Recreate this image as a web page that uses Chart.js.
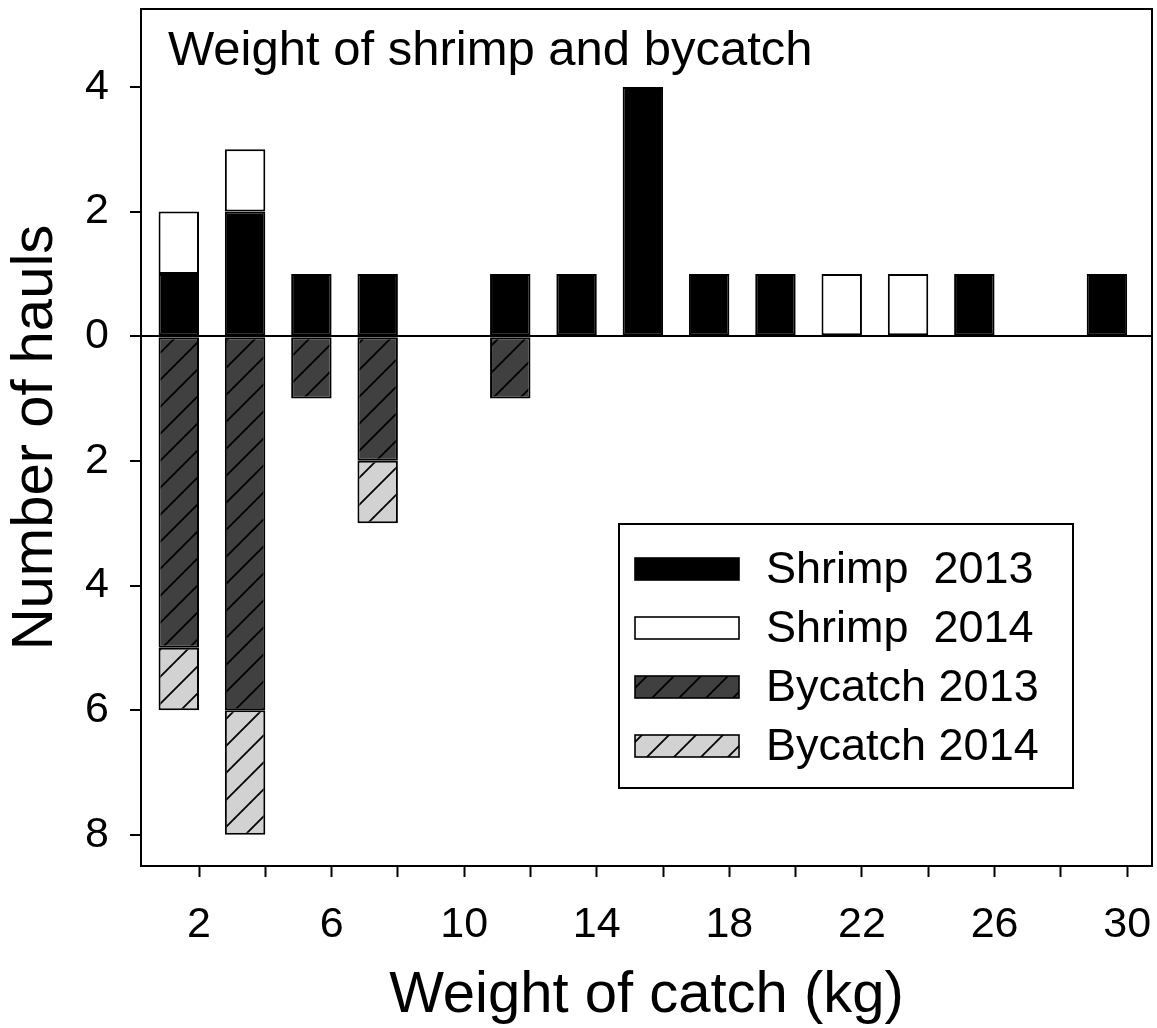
<!DOCTYPE html>
<html>
<head>
<meta charset="utf-8">
<title>Weight of shrimp and bycatch</title>
<script src="https://cdn.jsdelivr.net/npm/chart.js@4.4.0/dist/chart.umd.min.js"></script>
<style>
  html, body { margin: 0; padding: 0; background: #fff; }
  canvas { display: block; }
</style>
</head>
<body>
<canvas id="catch" width="1157" height="1028"></canvas>
<script>
// upper edge of each 2 kg weight class
const binUpper = [2, 4, 6, 8, 10, 12, 14, 16, 18, 20, 22, 24, 26, 28, 30];

// number of hauls per weight class
const shrimp2013 = [1, 2, 1, 1, null, 1, 1, 4, 1, 1, null, null, 1, null, 1];
const shrimp2014 = [1, 1, null, null, null, null, null, null, null, null, 1, 1, null, null, null];
const bycatch2013 = [5, 6, 1, 2, null, 1, null, null, null, null, null, null, null, null, null];
const bycatch2014 = [1, 2, null, 1, null, null, null, null, null, null, null, null, null, null, null];

const seriesLabels = ["Shrimp  2013", "Shrimp  2014", "Bycatch 2013", "Bycatch 2014"];

const xTicks = [2, 4, 6, 8, 10, 12, 14, 16, 18, 20, 22, 24, 26, 28, 30];
const xLabelled = [2, 6, 10, 14, 18, 22, 26, 30];
const yTicks = [-8, -6, -4, -2, 0, 2, 4];

const FONT = '"Liberation Sans", Arial, Helvetica, sans-serif';
const BAR_WIDTH = 1.22; // kg, bars sit against the upper edge of their class

const canvas = document.getElementById("catch");
const ctx = canvas.getContext("2d");

function hatch(fill) {
  const s = 27;
  const tile = document.createElement("canvas");
  tile.width = s;
  tile.height = s;
  const g = tile.getContext("2d");
  g.fillStyle = fill;
  g.fillRect(0, 0, s, s);
  g.strokeStyle = "#000";
  g.lineWidth = 1.8;
  g.beginPath();
  g.moveTo(0, s); g.lineTo(s, 0);
  g.moveTo(-s / 2, s / 2); g.lineTo(s / 2, -s / 2);
  g.moveTo(s / 2, s * 1.5); g.lineTo(s * 1.5, s / 2);
  g.stroke();
  return ctx.createPattern(tile, "repeat");
}

const toPoints = (values, sign) =>
  binUpper.map((u, i) => ({
    x: u - BAR_WIDTH / 2,
    y: values[i] == null ? null : sign * values[i],
  }));

const barStyle = {
  borderColor: "#000",
  borderWidth: 2,
  borderSkipped: false,
  categoryPercentage: 1,
  barPercentage: BAR_WIDTH / 2,
};

const datasets = [
  { label: seriesLabels[0], data: toPoints(shrimp2013, 1), backgroundColor: "#000", ...barStyle },
  { label: seriesLabels[1], data: toPoints(shrimp2014, 1), backgroundColor: "#fff", ...barStyle },
  { label: seriesLabels[2], data: toPoints(bycatch2013, -1), backgroundColor: hatch("#404040"), ...barStyle },
  { label: seriesLabels[3], data: toPoints(bycatch2014, -1), backgroundColor: hatch("#d2d2d2"), ...barStyle },
];

// keep tick labels from pushing the plot area inwards
const noOverflow = (s) => {
  s.paddingTop = 0;
  s.paddingBottom = 0;
  s.paddingLeft = 0;
  s.paddingRight = 0;
};

// frame, heading and legend drawn over the plot area
const decorations = {
  id: "decorations",
  afterDraw(chart) {
    const { ctx, chartArea: a } = chart;
    ctx.save();

    ctx.strokeStyle = "#000";
    ctx.lineWidth = 2;
    ctx.strokeRect(a.left, a.top, a.right - a.left, a.bottom - a.top);

    ctx.fillStyle = "#000";
    ctx.font = `49px ${FONT}`;
    ctx.textBaseline = "alphabetic";
    ctx.textAlign = "left";
    ctx.fillText("Weight of shrimp and bycatch", 168, 65);

    // legend box
    const box = { x: 619, y: 524, w: 454, h: 264 };
    ctx.fillStyle = "#fff";
    ctx.fillRect(box.x, box.y, box.w, box.h);
    ctx.lineWidth = 2;
    ctx.strokeRect(box.x, box.y, box.w, box.h);

    ctx.font = `45px ${FONT}`;
    ctx.textBaseline = "middle";
    chart.data.datasets.forEach((ds, i) => {
      const cy = 569 + i * 59;
      ctx.fillStyle = ds.backgroundColor;
      ctx.fillRect(635, cy - 11, 104, 22);
      ctx.lineWidth = 1.6;
      ctx.strokeRect(635, cy - 11, 104, 22);
      ctx.fillStyle = "#000";
      ctx.fillText(ds.label, 766, cy + 2);
    });

    ctx.restore();
  },
};

new Chart(ctx, {
  type: "bar",
  data: { datasets },
  options: {
    responsive: false,
    animation: false,
    devicePixelRatio: 1,
    layout: { padding: { top: 9, right: 5, left: 0, bottom: 0 } },
    plugins: { legend: { display: false }, tooltip: { enabled: false } },
    scales: {
      x: {
        type: "linear",
        stacked: true,
        offset: false,
        min: 0.25,
        max: 30.75,
        afterBuildTicks: (s) => { s.ticks = xTicks.map((v) => ({ value: v })); },
        afterFit: (s) => { s.height = 162; noOverflow(s); },
        ticks: {
          autoSkip: false,
          maxRotation: 0,
          padding: 22,
          color: "#000",
          font: { family: FONT, size: 43 },
          callback: (v) => (xLabelled.includes(v) ? String(v) : ""),
        },
        grid: {
          offset: false,
          drawOnChartArea: false,
          drawTicks: true,
          tickLength: 11,
          tickColor: "#000",
          tickWidth: 2,
        },
        border: { display: false },
        title: {
          display: true,
          text: "Weight of catch (kg)",
          color: "#000",
          font: { family: FONT, size: 58, lineHeight: 1 },
          padding: { top: 0, bottom: 3 },
        },
      },
      y: {
        stacked: true,
        min: -8.5,
        max: 5.25,
        afterBuildTicks: (s) => { s.ticks = yTicks.map((v) => ({ value: v })); },
        afterFit: (s) => { s.width = 141; noOverflow(s); },
        ticks: {
          padding: 21,
          color: "#000",
          font: { family: FONT, size: 43 },
          callback: (v) => String(Math.abs(v)),
        },
        grid: {
          drawOnChartArea: true,
          drawTicks: true,
          tickLength: 11,
          lineWidth: 2,
          tickWidth: 2,
          tickColor: "#000",
          color: (c) => (c.tick && c.tick.value === 0 ? "#000" : "rgba(0,0,0,0)"),
        },
        border: { display: false },
        title: {
          display: true,
          text: "Number of hauls",
          color: "#000",
          font: { family: FONT, size: 58, lineHeight: 1 },
          padding: { top: 7, bottom: 0 },
        },
      },
    },
  },
  plugins: [decorations],
});
</script>
</body>
</html>
